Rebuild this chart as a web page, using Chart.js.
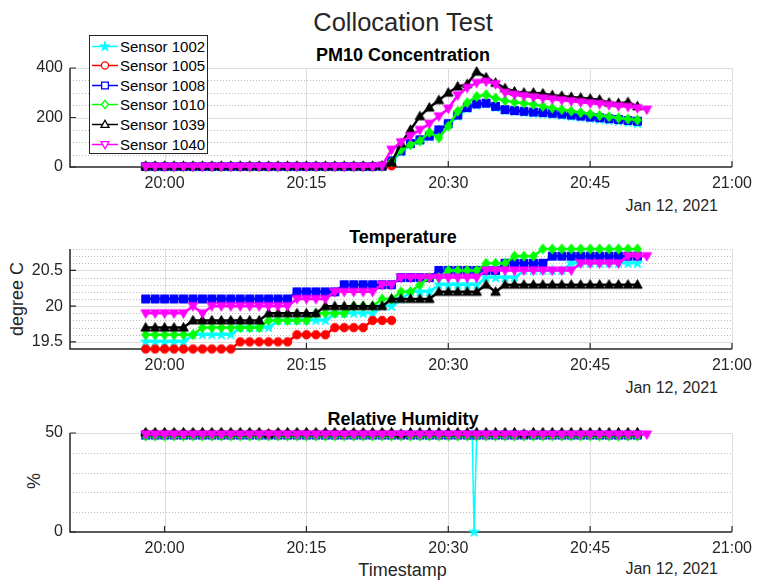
<!DOCTYPE html>
<html>
<head>
<meta charset="utf-8">
<script src="https://cdn.jsdelivr.net/npm/chart.js@4.4.1/dist/chart.umd.min.js"></script>
<style>
  html, body { margin: 0; padding: 0; background: #fff; }
  #wrap { position: relative; width: 759px; height: 582px; overflow: hidden;
          font-family: "Liberation Sans", Arial, Helvetica, sans-serif; color: #262626; }
  .txt { position: absolute; white-space: nowrap; line-height: 1; z-index: 0; }
  canvas.panel { position: absolute; left: 0; z-index: 1; }
  #legend { position: absolute; left: 89px; top: 35px; width: 117px; height: 117px;
            border: 1px solid #262626; background: #fff; z-index: 3; }
  #legend .row { position: absolute; left: 0; height: 19px; width: 117px; }
  #legend canvas { position: absolute; left: 1px; top: 0; }
  #legend span { position: absolute; left: 30px; top: 0; line-height: 19px; font-size: 15px; color: #000; }
</style>
</head>
<body>
<div id="wrap">
  <canvas class="panel" id="pmChart" width="759" height="217" style="top:0px"></canvas>
  <canvas class="panel" id="tempChart" width="759" height="199" style="top:200px"></canvas>
  <canvas class="panel" id="rhChart" width="759" height="192" style="top:390px"></canvas>
  <div id="legend"></div>
</div>
<script>
// ---- sensors ----
const sensorNames = ['Sensor 1002', 'Sensor 1005', 'Sensor 1008', 'Sensor 1010', 'Sensor 1039', 'Sensor 1040'];

// ---- sample times (one reading per minute, Jan 12, 2021) ----
const sampleTimes = ['19:58','19:59','20:00','20:01','20:02','20:03','20:04','20:05','20:06','20:07',
  '20:08','20:09','20:10','20:11','20:12','20:13','20:14','20:15','20:16','20:17',
  '20:18','20:19','20:20','20:21','20:22','20:23','20:24','20:25','20:26','20:27',
  '20:28','20:29','20:30','20:31','20:32','20:33','20:34','20:35','20:36','20:37',
  '20:38','20:39','20:40','20:41','20:42','20:43','20:44','20:45','20:46','20:47',
  '20:48','20:49','20:50','20:51'];

// ---- axis ticks ----
const xTickTimes = ['20:00', '20:15', '20:30', '20:45', '21:00'];
const xRange = ['19:50', '21:00'];
const pmTicks = [0, 200, 400];
const pmMinorGrid = [50, 100, 150, 250, 300, 350];
const pmRange = [0, 400];
const tempTicks = [19.5, 20, 20.5];
const tempTickLabels = ['19.5', '20', '20.5'];
const tempMinorGrid = [19.6, 19.7, 19.8, 19.9, 20.1, 20.2, 20.3, 20.4, 20.6, 20.7, 20.8];
const tempRange = [19.4, 20.8];
const rhTicks = [0, 50];
const rhMinorGrid = [10, 20, 30, 40];
const rhRange = [0, 50];

// ---- PM10 concentration ----
const pm1002 = [2,2,2,2,2,2,2,2,2,2,2,2,2,2,2,2,2,2,2,2,2,2,2,2,2,
  3,22,60,92,108,122,148,172,205,236,250,255,240,228,224,220,217,214,211,208,204,200,196,192,188,184,180,176];
const pm1005 = [2,2,2,2,2,2,2,2,2,2,2,2,2,2,2,2,2,2,2,2,2,2,2,2,2,3,5];
const pm1008 = [2,2,2,2,2,2,2,2,2,2,2,2,2,2,2,2,2,2,2,2,2,2,2,2,2,
  3,25,65,95,110,125,150,175,210,240,255,258,245,232,228,225,222,220,217,214,210,206,202,199,195,192,188,185];
const pm1010 = [2,2,2,2,2,2,2,2,2,2,2,2,2,2,2,2,2,2,2,2,2,2,2,2,2,
  3,20,70,90,105,140,118,165,225,260,285,292,278,268,262,258,253,245,238,232,226,220,214,208,203,198,194,190];
const pm1039 = [4,4,4,4,4,4,4,4,4,4,4,4,4,4,4,4,4,4,4,4,4,4,4,4,4,
  5,18,95,150,205,240,270,300,325,335,385,362,340,318,305,300,300,297,290,287,283,280,276,272,260,258,262,245];
const pm1040 = [2,2,2,2,2,2,2,2,2,2,2,2,2,2,2,2,2,2,2,2,2,2,2,2,2,
  5,70,100,125,150,175,205,236,290,320,340,345,335,300,292,287,282,278,274,270,266,262,258,255,250,246,243,238,232];

// ---- temperature (degree C) ----
const temp1002 = [19.5,19.5,19.5,19.5,19.5,19.6,19.6,19.6,19.6,19.6,19.7,19.7,19.7,19.7,
  19.8,19.8,19.8,19.8,19.8,19.8,19.9,19.9,19.9,19.9,19.9,20.0,20.0,20.1,20.2,20.2,20.2,
  20.3,20.3,20.3,20.3,20.3,20.4,20.4,20.4,20.4,20.5,20.5,20.5,20.5,20.5,
  20.6,20.6,20.6,20.6,20.6,20.6,20.6,20.6];
const temp1005 = [19.4,19.4,19.4,19.4,19.4,19.4,19.4,19.4,19.4,19.4,19.5,19.5,19.5,19.5,19.5,19.5,
  19.6,19.6,19.6,19.6,19.7,19.7,19.7,19.7,19.8,19.8,19.8];
const temp1008 = [20.1,20.1,20.1,20.1,20.1,20.1,20.1,20.1,20.1,20.1,20.1,20.1,20.1,20.1,20.1,20.1,
  20.2,20.2,20.2,20.2,20.2,20.3,20.3,20.3,20.3,20.3,20.3,20.4,20.4,20.4,20.4,
  20.5,20.5,20.5,20.5,20.5,20.5,20.5,20.6,20.6,20.6,20.6,20.6,
  20.7,20.7,20.7,20.7,20.7,20.7,20.7,20.7,20.7,20.7];
const temp1010 = [19.6,19.6,19.6,19.6,19.6,19.6,19.7,19.7,19.7,19.7,19.7,19.7,19.7,
  19.8,19.8,19.8,19.8,19.8,19.9,19.9,19.9,19.9,20.0,20.0,20.0,20.1,20.1,20.2,20.2,20.3,20.4,20.4,
  20.5,20.5,20.5,20.5,20.6,20.6,20.6,20.7,20.7,20.7,
  20.8,20.8,20.8,20.8,20.8,20.8,20.8,20.8,20.8,20.8,20.8];
const temp1039 = [19.7,19.7,19.7,19.7,19.7,19.8,19.8,19.8,19.8,19.8,19.8,19.8,19.8,
  19.9,19.9,19.9,19.9,19.9,19.9,20.0,20.0,20.0,20.0,20.0,20.0,20.0,20.1,20.1,20.1,20.1,20.1,
  20.2,20.2,20.2,20.2,20.2,20.3,20.2,
  20.3,20.3,20.3,20.3,20.3,20.3,20.3,20.3,20.3,20.3,20.3,20.3,20.3,20.3,20.3];
const temp1040 = [19.9,19.9,19.9,19.9,19.9,20.0,19.9,20.0,20.0,20.0,20.0,20.0,20.0,20.0,20.0,20.0,
  20.1,20.1,20.1,20.1,20.2,20.2,20.2,20.2,20.2,20.3,20.3,
  20.4,20.4,20.4,20.4,20.4,20.4,20.4,20.4,20.4,
  20.5,20.5,20.5,20.5,20.5,20.5,20.5,20.5,20.5,20.5,20.6,20.6,20.6,20.6,20.6,20.7,20.7,20.7];

// ---- relative humidity (%) ----
const rh1002 = [49,49,49,49,49,49,49,49,49,49,49,49,49,49,49,49,49,49,49,49,49,49,49,49,49,49,49,
  49,49,49,49,49,49,49,49,49,49,49,49,49,49,49,49,49,49,49,49,49,49,49,49,49,49];
// extra sensor 1002 readings around its dropout
const rh1002DropoutTimes = ['20:32:32', '20:32:44'];
const rh1002DropoutValues = [49, 0];
const rh1005 = [49.5,49.5,49.5,49.5,49.5,49.5,49.5,49.5,49.5,49.5,49.5,49.5,49.5,49.5,49.5,49.5,49.5,
  49.5,49.5,49.5,49.5,49.5,49.5,49.5,49.5,49.5,49.5];
const rh1008 = [49,49,49,49,49,49,49,49,49,49,49,49,49,49,49,49,49,49,49,49,49,49,49,49,49,49,49,
  49,49,49,49,49,49,49,49,49,49,49,49,49,49,49,49,49,49,49,49,49,49,49,49,49,49];
const rh1010 = [48.5,48.5,48.5,48.5,48.5,48.5,48.5,48.5,48.5,48.5,48.5,48.5,48.5,48.5,48.5,48.5,48.5,48.5,
  48.5,48.5,48.5,48.5,48.5,48.5,48.5,48.5,48.5,48.5,48.5,48.5,48.5,48.5,48.5,48.5,48.5,48.5,
  48.5,48.5,48.5,48.5,48.5,48.5,48.5,48.5,48.5,48.5,48.5,48.5,48.5,48.5,48.5,48.5,48.5];
const rh1039 = [50.3,50.3,50.3,50.3,50.3,50.3,50.3,50.3,50.3,50.3,50.3,50.3,50.3,49.6,50.3,50.3,50.3,50.3,
  50.3,50.3,50.3,50.3,50.3,50.3,50.3,50.3,50.3,49.6,50.3,50.3,50.3,50.3,50.3,50.3,50.3,50.3,
  50.3,50.3,50.3,50.3,49.6,50.3,50.3,50.3,50.3,50.3,50.3,50.3,50.3,50.3,50.3,50.3,50.3];
const rh1040 = [49.3,49.3,49.3,49.3,49.3,49.3,49.3,49.3,49.3,49.3,49.3,49.3,49.3,49.3,49.3,49.3,49.3,49.3,
  49.3,49.3,49.3,49.3,49.3,49.3,49.3,49.3,49.3,49.3,49.3,49.3,49.3,49.3,49.3,49.3,49.3,49.3,
  49.3,49.3,49.3,49.3,49.3,49.3,49.3,49.3,49.3,49.3,49.3,49.3,49.3,49.3,49.3,49.3,49.3,49.3];

// ---- styling ----
const sensorColors = ['#00ffff', '#ff0000', '#0000ff', '#00ff00', '#000000', '#ff00ff'];
const markerKinds = ['star', 'circle', 'square', 'diamond', 'triangleUp', 'triangleDown'];
const TEXT = '#262626';
const FONT = '"Liberation Sans", Arial, Helvetica, sans-serif';

function toMinutes(s) {
  const p = s.split(':').map(Number);
  return p[0] * 60 + p[1] + (p[2] || 0) / 60;
}
const sampleMinutes = sampleTimes.map(toMinutes);
const xTickMinutes = xTickTimes.map(toMinutes);

function fmtMinute(v) {
  const h = Math.floor(v / 60), m = Math.round(v - h * 60);
  return h + ':' + String(m).padStart(2, '0');
}

// marker outline path for the legend swatches and the data markers
function markerPath(g, kind, cx, cy, r) {
  g.beginPath();
  if (kind === 'circle') {
    g.arc(cx, cy, r * 0.85, 0, Math.PI * 2);
  } else if (kind === 'square') {
    const s = r * 0.8; g.rect(cx - s, cy - s, 2 * s, 2 * s);
  } else if (kind === 'diamond') {
    g.moveTo(cx, cy - r); g.lineTo(cx + r * 0.8, cy); g.lineTo(cx, cy + r); g.lineTo(cx - r * 0.8, cy);
  } else if (kind === 'triangleUp') {
    g.moveTo(cx, cy - r); g.lineTo(cx + r * 0.95, cy + r * 0.7); g.lineTo(cx - r * 0.95, cy + r * 0.7);
  } else if (kind === 'triangleDown') {
    g.moveTo(cx, cy + r); g.lineTo(cx + r * 0.95, cy - r * 0.7); g.lineTo(cx - r * 0.95, cy - r * 0.7);
  } else {
    for (let k = 0; k < 10; k++) {
      const rr = k % 2 ? r * 0.42 : r * 1.05;
      const a = -Math.PI / 2 + k * Math.PI / 5;
      g.lineTo(cx + rr * Math.cos(a), cy + rr * Math.sin(a));
    }
  }
  g.closePath();
}

function markerImage(kind, color, r) {
  const c = document.createElement('canvas');
  const s = Math.ceil(r * 2 + 3);
  c.width = s; c.height = s;
  const g = c.getContext('2d');
  markerPath(g, kind, s / 2, s / 2, r);
  g.fillStyle = color; g.fill();
  g.strokeStyle = color; g.lineWidth = 1; g.stroke();
  return c;
}

const MARKER_R = 5;
const markerImages = markerKinds.map((k, i) => markerImage(k, sensorColors[i], MARKER_R));

function toPoints(values) {
  return values.map((v, i) => ({ x: sampleMinutes[i], y: v }));
}

function makeDatasets(seriesList) {
  return seriesList.map((pts, i) => ({
    label: sensorNames[i],
    data: pts,
    borderColor: sensorColors[i],
    backgroundColor: sensorColors[i],
    borderWidth: 2.5,
    // steep jumps (sensor dropouts) are drawn with a thin stroke
    segment: { borderWidth: c => (Math.abs(c.p1.y - c.p0.y) > 40 ? 1.5 : undefined) },
    pointStyle: markerImages[i],
    pointRadius: MARKER_R,
    pointHoverRadius: MARKER_R,
    tension: 0,
    clip: false,
    order: seriesList.length - 1 - i
  }));
}

// grid lines, axis lines and inward tick marks
const axesFrame = {
  id: 'axesFrame',
  beforeDatasetsDraw(chart, args, o) {
    const { ctx, chartArea: a } = chart;
    const xs = chart.scales.x, ys = chart.scales.y;
    const hline = (v) => { const py = Math.round(ys.getPixelForValue(v)) + 0.5; ctx.beginPath(); ctx.moveTo(a.left, py); ctx.lineTo(a.right, py); ctx.stroke(); };
    const vline = (v) => { const px = Math.round(xs.getPixelForValue(v)) + 0.5; ctx.beginPath(); ctx.moveTo(px, a.top); ctx.lineTo(px, a.bottom); ctx.stroke(); };
    ctx.save();
    ctx.lineWidth = 1;
    ctx.strokeStyle = '#bdbdbd';
    ctx.setLineDash([1, 2]);
    o.yMinor.forEach(hline);
    ctx.setLineDash([]);
    ctx.strokeStyle = '#dedede';
    o.yMajor.forEach(hline);
    xTickMinutes.forEach(vline);
    // axis lines
    ctx.strokeStyle = TEXT;
    ctx.lineWidth = 1.5;
    ctx.beginPath();
    ctx.moveTo(a.left, a.top); ctx.lineTo(a.left, a.bottom); ctx.lineTo(a.right, a.bottom);
    ctx.stroke();
    ctx.lineWidth = 1.2;
    ctx.beginPath();
    o.yMajor.concat(o.yAxisTicks).forEach(v => {
      const py = ys.getPixelForValue(v); ctx.moveTo(a.left, py); ctx.lineTo(a.left + 6, py);
    });
    xTickMinutes.forEach(v => {
      const px = xs.getPixelForValue(v); ctx.moveTo(px, a.bottom); ctx.lineTo(px, a.bottom - 6);
    });
    ctx.stroke();
    ctx.restore();
  }
};

function makeChart(id, datasets, yr, yTicks, yLabels, grid, padTop) {
  return new Chart(document.getElementById(id), {
    type: 'line',
    data: { datasets },
    plugins: [axesFrame],
    options: {
      responsive: false,
      animation: false,
      devicePixelRatio: 1,
      events: [],
      layout: { padding: { top: padTop, right: 24, bottom: 20, left: 0 } },
      plugins: {
        legend: { display: false },
        tooltip: { enabled: false },
        axesFrame: grid
      },
      scales: {
        x: {
          type: 'linear',
          min: toMinutes(xRange[0]),
          max: toMinutes(xRange[1]),
          afterBuildTicks: s => { s.ticks = xTickMinutes.map(v => ({ value: v })); },
          afterFit: s => { s.height = 30; },
          grid: { display: false, drawTicks: false },
          border: { display: false },
          ticks: { callback: v => fmtMinute(v), color: TEXT, font: { family: FONT, size: 16 }, padding: 7, maxRotation: 0, autoSkip: false }
        },
        y: {
          type: 'linear',
          min: yr[0],
          max: yr[1],
          afterBuildTicks: s => { s.ticks = yTicks.map(v => ({ value: v })); },
          afterFit: s => { s.width = 70; },
          grid: { display: false, drawTicks: false },
          border: { display: false },
          ticks: { callback: (v, i) => yLabels[i], color: TEXT, font: { family: FONT, size: 16 }, padding: 7 }
        }
      }
    }
  });
}

// PM10 panel
makeChart('pmChart',
  makeDatasets([pm1002, pm1005, pm1008, pm1010, pm1039, pm1040].map(toPoints)),
  pmRange, pmTicks, pmTicks.map(String),
  { yMinor: pmMinorGrid, yMajor: pmTicks.filter(v => v > pmRange[0]), yAxisTicks: [pmRange[0]] }, 68);

// temperature panel
makeChart('tempChart',
  makeDatasets([temp1002, temp1005, temp1008, temp1010, temp1039, temp1040].map(toPoints)),
  tempRange, tempTicks, tempTickLabels,
  { yMinor: tempMinorGrid, yMajor: tempTicks, yAxisTicks: [] }, 49);

// humidity panel, sensor 1002 has a dropout reading
const rh1002Points = toPoints(rh1002);
rh1002DropoutTimes.forEach((t, k) => rh1002Points.push({ x: toMinutes(t), y: rh1002DropoutValues[k] }));
rh1002Points.sort((p, q) => p.x - q.x);
makeChart('rhChart',
  makeDatasets([rh1002Points, toPoints(rh1005), toPoints(rh1008), toPoints(rh1010), toPoints(rh1039), toPoints(rh1040)]),
  rhRange, rhTicks, rhTicks.map(String),
  { yMinor: rhMinorGrid, yMajor: rhTicks.filter(v => v > rhRange[0]), yAxisTicks: [rhRange[0]] }, 43);

// ---- titles and labels ----
const wrap = document.getElementById('wrap');
function addText(str, o) {
  const d = document.createElement('div');
  d.className = 'txt';
  d.textContent = str;
  d.style.fontSize = o.size + 'px';
  d.style.fontWeight = o.bold ? 'bold' : 'normal';
  d.style.color = o.color || TEXT;
  if (o.rotate) {
    d.style.left = o.x + 'px';
    d.style.top = o.y + 'px';
    d.style.transform = 'translate(-50%,-50%) rotate(-90deg)';
  } else {
    d.style.left = o.x + 'px';
    d.style.top = (o.baseline - 0.8465 * o.size) + 'px';
    const shift = o.align === 'right' ? '-100%' : (o.align === 'left' ? '0' : '-50%');
    d.style.transform = 'translateX(' + shift + ')';
  }
  wrap.appendChild(d);
}
addText('Collocation Test', { x: 403, baseline: 31.5, size: 25.5 });
addText('PM10 Concentration', { x: 403, baseline: 61.5, size: 18, bold: true, color: '#000' });
addText('Temperature', { x: 403, baseline: 243, size: 18, bold: true, color: '#000' });
addText('Relative Humidity', { x: 403, baseline: 425, size: 18, bold: true, color: '#000' });
addText('degree C', { x: 17, y: 299, size: 18, rotate: true });
addText('%', { x: 33.5, y: 481, size: 18, rotate: true });
addText('Timestamp', { x: 402.5, baseline: 576, size: 18 });
[211.5, 393.2, 574.8].forEach(b => addText('Jan 12, 2021', { x: 718, baseline: b, size: 16, align: 'right' }));

// ---- legend ----
const legend = document.getElementById('legend');
sensorNames.forEach((name, i) => {
  const row = document.createElement('div');
  row.className = 'row';
  row.style.top = (0.5 + i * 19.6) + 'px';
  const c = document.createElement('canvas');
  c.width = 28; c.height = 19;
  const g = c.getContext('2d');
  g.strokeStyle = sensorColors[i];
  g.lineWidth = 1.5;
  g.beginPath(); g.moveTo(1, 9.5); g.lineTo(27, 9.5); g.stroke();
  markerPath(g, markerKinds[i], 14, 9.5, 4.2);
  g.fillStyle = markerKinds[i] === 'star' ? sensorColors[i] : '#fff';
  g.fill();
  g.lineWidth = 1.3;
  g.stroke();
  const t = document.createElement('span');
  t.textContent = name;
  row.appendChild(c);
  row.appendChild(t);
  legend.appendChild(row);
});
</script>
</body>
</html>
